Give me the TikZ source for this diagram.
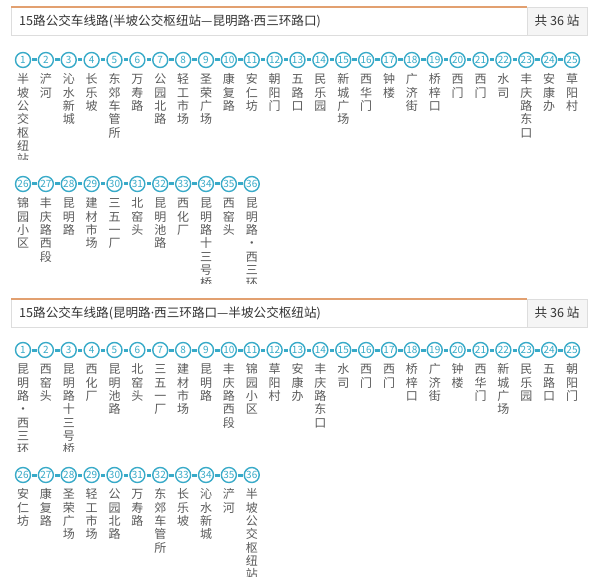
\documentclass[tikz,border=0pt]{standalone}
\usepackage{fontspec}
\setmainfont{Noto Sans CJK SC}
\newfontfamily\latinfont{Noto Sans}
\usepackage{tikz}
\usetikzlibrary{positioning}
\definecolor{myblue}{RGB}{56,170,200}
\definecolor{myorange}{RGB}{226,160,112}
\definecolor{mygray}{RGB}{221,221,221}
\definecolor{mylight}{RGB}{245,245,245}
\definecolor{mytext}{RGB}{51,51,51}
\definecolor{mylabel}{RGB}{90,90,90}
% one character per line
\makeatletter
\def\vlabel#1{\rule{0pt}{10.5pt}\@vlabel#1\@nil}
\def\@vlabel#1#2\@nil{#1\ifx\relax#2\relax\expandafter\@gobble\else\expandafter\@firstofone\fi{\\\@vlabel#2\@nil}}
\makeatother
\newcommand\middot{{\latinfont ·}}
\tikzset{
  stopnode/.style={circle, draw=myblue, fill=white, text=myblue,
    line width=1.4pt, minimum size=15pt, inner sep=0pt,
    font=\fontsize{10}{10}\selectfont},
  stoplabel/.style={align=center, inner sep=0pt, text=mylabel,
    font=\fontsize{12}{13.3}\selectfont},
  stoplink/.style={myblue, line width=3pt, shorten <=1pt, shorten >=1pt},
  titlebox/.style={draw=mygray, fill=white},
  countbox/.style={draw=mygray, fill=mylight},
  titletext/.style={text=mytext, font=\fontsize{12.6}{13}\selectfont, inner sep=0pt}
}

\begin{document}
\begin{tikzpicture}[x=1pt, y=-1pt]
  \useasboundingbox (0,0) rectangle (600,588);

  % Header: Banpo -> Kunming Rd
  \draw[titlebox] (11,7) rectangle (527,35);
  \draw[countbox] (527,7) rectangle (587,35);
  \draw[myorange, line width=2pt] (11,7) -- (527,7);
  \node[titletext, anchor=west] (title1) at (19,21) {15路公交车线路(半坡公交枢纽站—昆明路\middot 西三环路口)};
  \node[titletext] (count1) at (557,21) {共 36 站};

  % Stops, direction 1
  \begin{scope}
    \clip (0,45) rectangle (600,160) (0,169) rectangle (600,284);
    \foreach \name [count=\i] in {半坡公交枢纽站,浐河,沁水新城,长乐坡,东郊车管所,万寿路,
      公园北路,轻工市场,圣荣广场,康复路,安仁坊,朝阳门,五路口,民乐园,新城广场,西华门,
      钟楼,广济街,桥梓口,西门,西门,水司,丰庆路东口,安康办,草阳村,锦园小区,丰庆路西段,
      昆明路,建材市场,三五一厂,北窑头,昆明池路,西化厂,昆明路十三号桥,西窑头,昆明路·西三环}{
      \ifnum\i<26 \def\col{\i-1}\def\ry{60}\else\def\col{\i-26}\def\ry{184}\fi
      \node[stopnode] (a\i) at ({23+22.875*(\col)},\ry) {\i};
      \node[stoplabel, below=5pt of a\i] (la\i) {\expandafter\vlabel\expandafter{\name}};
      \pgfmathtruncatemacro\prev{\i-1}
      \ifnum\i>1 \ifnum\i=26 \else \draw[stoplink] (a\prev) -- (a\i); \fi\fi
    }
  \end{scope}

  % Header: Kunming Rd -> Banpo
  \draw[titlebox] (11,299) rectangle (527,327);
  \draw[countbox] (527,299) rectangle (587,327);
  \draw[myorange, line width=2pt] (11,299) -- (527,299);
  \node[titletext, anchor=west] (title2) at (19,313) {15路公交车线路(昆明路\middot 西三环路口—半坡公交枢纽站)};
  \node[titletext] (count2) at (557,313) {共 36 站};

  % Stops, direction 2
  \begin{scope}
    \clip (0,335) rectangle (600,451) (0,460) rectangle (600,576);
    \foreach \name [count=\i] in {昆明路·西三环,西窑头,昆明路十三号桥,西化厂,昆明池路,北窑头,
      三五一厂,建材市场,昆明路,丰庆路西段,锦园小区,草阳村,安康办,丰庆路东口,水司,西门,
      西门,桥梓口,广济街,钟楼,西华门,新城广场,民乐园,五路口,朝阳门,安仁坊,康复路,
      圣荣广场,轻工市场,公园北路,万寿路,东郊车管所,长乐坡,沁水新城,浐河,半坡公交枢纽站}{
      \ifnum\i<26 \def\col{\i-1}\def\ry{350}\else\def\col{\i-26}\def\ry{475}\fi
      \node[stopnode] (b\i) at ({23+22.875*(\col)},\ry) {\i};
      \node[stoplabel, below=5pt of b\i] (lb\i) {\expandafter\vlabel\expandafter{\name}};
      \pgfmathtruncatemacro\prev{\i-1}
      \ifnum\i>1 \ifnum\i=26 \else \draw[stoplink] (b\prev) -- (b\i); \fi\fi
    }
  \end{scope}
\end{tikzpicture}
\end{document}
